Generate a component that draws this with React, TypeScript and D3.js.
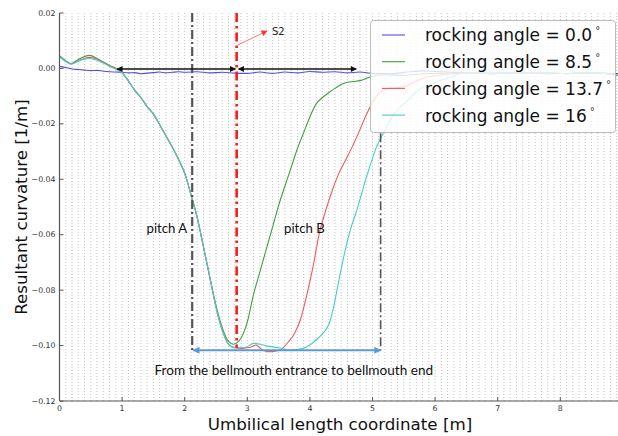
import React from 'react';
import * as d3 from 'd3';

const W = 618;
const H = 436;

const xTicks = [0, 1, 2, 3, 4, 5, 6, 7, 8];
const yTicks = [-0.12, -0.1, -0.08, -0.06, -0.04, -0.02, 0, 0.02];
const gridX = d3.range(1, 90).map((i) => i / 10);

const legendLabels = ['rocking angle = 0.0', 'rocking angle = 8.5', 'rocking angle = 13.7', 'rocking angle = 16'];
const colors = ['#4f4ff2', '#3f9f3f', '#f05a5a', '#45cccc'];

// shared descent segment (green / red / cyan overlap)
const descentX = [1.0, 1.1, 1.2, 1.3, 1.4, 1.5, 1.6, 1.7, 1.8, 1.9, 2.0, 2.1, 2.2, 2.3, 2.4];
const descentY = [-0.0015, -0.0045, -0.0078, -0.0105, -0.0138, -0.0165, -0.0203, -0.0243, -0.0283, -0.0328, -0.0378, -0.0455, -0.0538, -0.0644, -0.0752];

// shared tail segment
const tailX = [6.6, 6.9, 7.2, 7.5, 7.8, 8.1, 8.4, 8.7, 8.93];
const tailY = [-0.0016, -0.0019, -0.0015, -0.0018, -0.0016, -0.0019, -0.0016, -0.0018, -0.0026];

const blueX = [0, 0.1, 0.2, 0.3, 0.4, 0.5, 0.6, 0.7, 0.8, 0.9, 1.0, 1.1, 1.2, 1.3, 1.4, 1.5, 1.6, 1.7, 1.8, 1.9, 2.0, 2.2, 2.4, 2.6, 2.8, 3.0, 3.2, 3.4, 3.6, 3.8, 4.0, 4.2, 4.4, 4.6, 4.8, 5.0, 5.3, 5.6, 5.8, 6.0, 6.3, 6.6, 7.0, 7.4, 7.8, 8.2, 8.6, 8.93];
const blueY = [0.0008, 0.0003, -0.0002, -0.0004, -0.0006, -0.0008, -0.0007, -0.001, -0.0012, -0.0013, -0.0014, -0.0016, -0.0015, -0.0019, -0.0017, -0.0015, -0.0013, -0.0016, -0.0014, -0.0012, -0.0014, -0.0012, -0.0016, -0.0014, -0.0017, -0.0018, -0.0013, -0.0018, -0.0013, -0.0016, -0.0011, -0.0014, -0.0012, -0.0016, -0.0013, -0.0018, -0.0019, -0.0012, -0.0009, -0.0011, -0.0014, -0.0016, -0.0017, -0.0016, -0.0019, -0.0018, -0.0017, -0.0019];

const greenX = [0, 0.1, 0.18, 0.3, 0.4, 0.48, 0.6, 0.7, 0.8, 0.9, ...descentX, 2.5, 2.6, 2.7, 2.78, 2.86, 2.94, 3.0, 3.1, 3.2, 3.3, 3.4, 3.5, 3.6, 3.7, 3.8, 3.9, 4.0, 4.1, 4.2, 4.3, 4.4, 4.5, 4.6, 4.7, 4.8, 4.9, 5.0, 5.2, 5.5, 5.8, 6.1, 6.4, ...tailX];
const greenY = [0.0046, 0.0028, 0.0018, 0.0032, 0.0043, 0.0047, 0.0036, 0.0023, 0.0011, 0.0, ...descentY, -0.0855, -0.0935, -0.0985, -0.0995, -0.0985, -0.0955, -0.0915, -0.0815, -0.0735, -0.0655, -0.0575, -0.0495, -0.0425, -0.0358, -0.029, -0.0232, -0.0175, -0.0128, -0.0105, -0.0088, -0.0072, -0.0058, -0.005, -0.0047, -0.0044, -0.0036, -0.0028, -0.0023, -0.0025, -0.0019, -0.0018, -0.0015, ...tailY];

const redX = [0, 0.1, 0.18, 0.3, 0.4, 0.48, 0.6, 0.7, 0.8, 0.9, ...descentX, 2.5, 2.6, 2.7, 2.8, 2.9, 3.0, 3.08, 3.14, 3.22, 3.32, 3.45, 3.55, 3.65, 3.75, 3.85, 3.95, 4.05, 4.15, 4.25, 4.35, 4.45, 4.6, 4.75, 4.9, 5.0, 5.1, 5.2, 5.35, 5.5, 5.7, 5.9, 6.2, 6.4, ...tailX];
const redY = [0.0044, 0.0026, 0.0016, 0.0028, 0.0037, 0.004, 0.0033, 0.0021, 0.0009, -0.0002, ...descentY, -0.0862, -0.0945, -0.0995, -0.1008, -0.101, -0.1008, -0.1003, -0.0998, -0.1012, -0.1022, -0.102, -0.1012, -0.0988, -0.0958, -0.0905, -0.0818, -0.0716, -0.0595, -0.0515, -0.0445, -0.0385, -0.0318, -0.0247, -0.0168, -0.0122, -0.009, -0.0076, -0.007, -0.0066, -0.0045, -0.003, -0.0022, -0.0017, ...tailY];

const cyanX = [0, 0.1, 0.18, 0.3, 0.4, 0.48, 0.6, 0.7, 0.8, 0.9, ...descentX, 2.5, 2.6, 2.7, 2.8, 2.9, 3.0, 3.1, 3.2, 3.3, 3.5, 3.7, 3.88, 4.0, 4.1, 4.2, 4.3, 4.37, 4.45, 4.55, 4.65, 4.75, 4.9, 5.05, 5.2, 5.35, 5.5, 5.65, 5.8, 5.95, 6.1, 6.25, 6.4, ...tailX];
const cyanY = [0.0042, 0.0025, 0.0016, 0.0026, 0.0033, 0.0036, 0.003, 0.002, 0.0008, -0.0003, ...descentY, -0.0862, -0.0945, -0.0995, -0.1008, -0.1008, -0.1004, -0.0992, -0.0995, -0.1001, -0.1008, -0.1016, -0.1011, -0.0998, -0.098, -0.0958, -0.0925, -0.087, -0.078, -0.067, -0.058, -0.0511, -0.0395, -0.0292, -0.0222, -0.0162, -0.0128, -0.0095, -0.0068, -0.0056, -0.0042, -0.0032, -0.0019, ...tailY];

const seriesX = [blueX, greenX, redX, cyanX];
const seriesY = [blueY, greenY, redY, cyanY];

// annotation positions in data units
const pitchLineLeft = 2.12;
const pitchLineRight = 5.13;
const s2Line = 2.83;
const arrowLevel = -0.0002;
const bellArrowLevel = -0.1017;

export default function App() {
  const x = d3.scaleLinear().domain([0, 8.93]).range([59.5, 618.5]);
  const y = d3.scaleLinear().domain([-0.12, 0.02]).range([401, 13]);
  const line = d3
    .line<[number, number]>()
    .x((d) => x(d[0]))
    .y((d) => y(d[1]))
    .curve(d3.curveMonotoneX);

  const fmt = (v: number) => {
    const s = Math.abs(v).toFixed(2);
    return v < -1e-9 ? '\u2212' + s : s;
  };

  const yTop = y(0.02);
  const yBot = y(-0.12);
  const xL = x(0);
  const xR = x(8.93);

  return (
    <svg width={W} height={H} style={{ position: 'absolute', left: 0, top: 0, background: '#fff' }} fontFamily="DejaVu Sans">
      <defs>
        <clipPath id="plot">
          <rect x={xL} y={yTop} width={xR - xL} height={yBot - yTop} />
        </clipPath>
        <marker id="ahBlack" viewBox="0 0 10 10" refX="9" refY="5" markerWidth="7" markerHeight="6" markerUnits="userSpaceOnUse" orient="auto-start-reverse">
          <path d="M0,0 L10,5 L0,10 z" fill="#111" />
        </marker>
        <marker id="ahBlue" viewBox="0 0 10 10" refX="9" refY="5" markerWidth="8" markerHeight="7" markerUnits="userSpaceOnUse" orient="auto-start-reverse">
          <path d="M0,0 L10,5 L0,10 z" fill="#5b9bd5" />
        </marker>
        <marker id="ahRed" viewBox="0 0 10 10" refX="9" refY="5" markerWidth="7" markerHeight="6" markerUnits="userSpaceOnUse" orient="auto">
          <path d="M0,0 L10,5 L0,10 z" fill="#f33" />
        </marker>
      </defs>

      {/* grid */}
      {gridX.map((g) => (
        <line key={g} x1={x(g)} x2={x(g)} y1={yTop} y2={yBot} stroke="#c4c4c4" strokeWidth={1} strokeDasharray="1,2" />
      ))}

      {/* curves */}
      <g clipPath="url(#plot)">
        {seriesX.map((xs, i) => (
          <path
            key={i}
            d={line(xs.map((v, j) => [v, seriesY[i][j]] as [number, number])) || ''}
            fill="none"
            stroke={colors[i]}
            strokeWidth={1.1}
          />
        ))}
      </g>

      {/* dash-dot lines */}
      <line x1={x(pitchLineLeft)} x2={x(pitchLineLeft)} y1={yTop} y2={y(bellArrowLevel)} stroke="#555" strokeWidth={2.2} strokeDasharray="9,3,2,3" />
      <line x1={x(pitchLineRight)} x2={x(pitchLineRight)} y1={y(-0.0234)} y2={y(bellArrowLevel)} stroke="#555" strokeWidth={1.6} strokeDasharray="9,3,2,3" />
      <line x1={x(s2Line)} x2={x(s2Line)} y1={yTop} y2={y(-0.1008)} stroke="#ff1a1a" strokeWidth={2.6} strokeDasharray="9,4,2.5,4" />

      {/* black double arrows */}
      <line x1={x(0.92)} x2={x(2.81)} y1={y(arrowLevel)} y2={y(arrowLevel)} stroke="#111" strokeWidth={1.5} markerStart="url(#ahBlack)" markerEnd="url(#ahBlack)" />
      <line x1={x(2.86)} x2={x(4.74)} y1={y(arrowLevel)} y2={y(arrowLevel)} stroke="#111" strokeWidth={1.5} markerStart="url(#ahBlack)" markerEnd="url(#ahBlack)" />

      {/* blue double arrow */}
      <line x1={x(pitchLineLeft) + 1} x2={x(pitchLineRight)} y1={y(bellArrowLevel)} y2={y(bellArrowLevel)} stroke="#5b9bd5" strokeWidth={2} markerStart="url(#ahBlue)" markerEnd="url(#ahBlue)" />

      {/* S2 annotation */}
      <line x1={x(s2Line) + 1} y1={45} x2={267} y2={31} stroke="#f77" strokeWidth={1} markerEnd="url(#ahRed)" />
      <text x={272} y={34.5} fontSize={10} fill="#222">S2</text>

      {/* texts */}
      <text x={146.5} y={233} fontSize={13.2} fontFamily="Lato" fill="#111">pitch A</text>
      <text x={284} y={233} fontSize={13.2} fontFamily="Lato" fill="#111">pitch B</text>
      <text x={154.5} y={375} fontSize={13.6} fontFamily="Lato" fill="#111">From the bellmouth entrance to bellmouth end</text>

      {/* axes */}
      <line x1={xL} x2={xL} y1={yTop} y2={yBot} stroke="#555" strokeWidth={1.2} />
      <line x1={xL} x2={xR} y1={yBot} y2={yBot} stroke="#555" strokeWidth={1.2} />
      {yTicks.map((t) => (
        <g key={t}>
          <line x1={xL} x2={xL + 4} y1={y(t)} y2={y(t)} stroke="#555" strokeWidth={1} />
          <text x={55.5} y={y(t) + 2.6} fontSize={7.8} textAnchor="end" fill="#333">{fmt(t)}</text>
        </g>
      ))}
      {xTicks.map((t) => (
        <g key={t}>
          <line x1={x(t)} x2={x(t)} y1={yBot} y2={yBot - 4} stroke="#555" strokeWidth={1} />
          <text x={x(t)} y={411} fontSize={7.8} textAnchor="middle" fill="#333">{t}</text>
        </g>
      ))}

      <text x={340} y={430} fontSize={16.7} textAnchor="middle" fill="#111">Umbilical length coordinate [m]</text>
      <text transform={`translate(27,${(yTop + yBot) / 2}) rotate(-90)`} fontSize={16.7} textAnchor="middle" fill="#111">Resultant curvature [1/m]</text>

      {/* legend */}
      <g>
        <rect x={370.5} y={20.5} width={245} height={112} rx={3} fill="#fff" fillOpacity={0.8} stroke="#bbb" strokeWidth={1} />
        {legendLabels.map((lab, i) => (
          <g key={lab}>
            <line x1={382} x2={405} y1={35 + i * 26.7} y2={35 + i * 26.7} stroke={colors[i]} strokeWidth={1.1} />
            <text x={425} y={41 + i * 26.9} fontSize={17} fill="#111">
              {lab}
              <tspan dx={3} dy={-7} fontSize={10} fill="#333">°</tspan>
            </text>
          </g>
        ))}
      </g>
    </svg>
  );
}
